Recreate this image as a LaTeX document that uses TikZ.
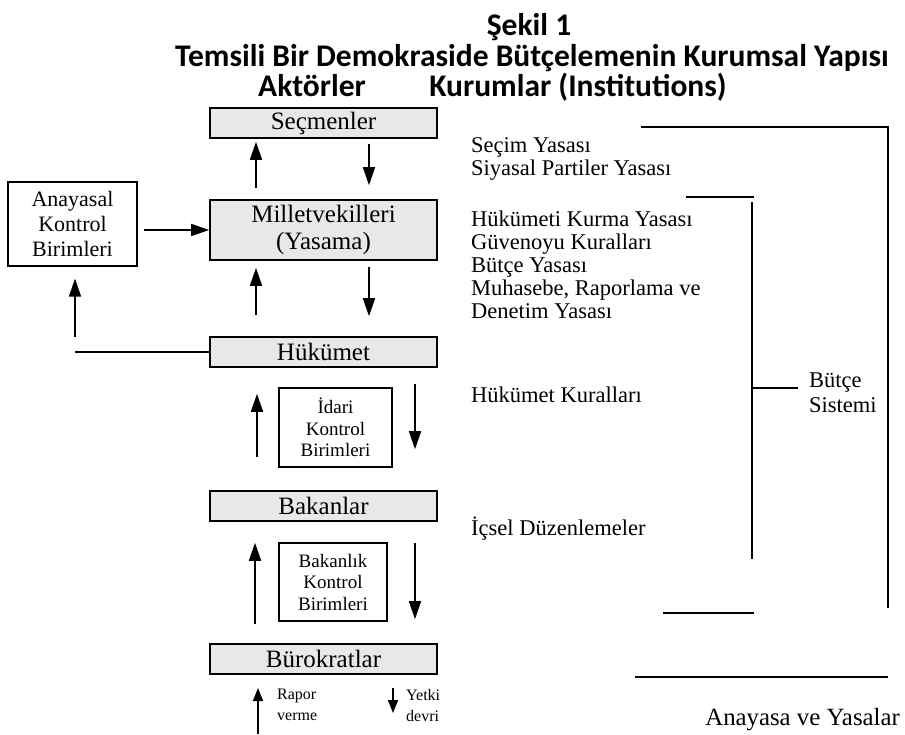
\documentclass[tikz,border=0pt]{standalone}
\usepackage{fontspec}
\setmainfont{Liberation Serif}
\newfontfamily\titlefont{Carlito}
\usetikzlibrary{arrows.meta}

\begin{document}
\begin{tikzpicture}[x=1pt,y=-1pt]
		\tikzset{actor/.style={draw, line width=1.6pt, fill=gray!18, minimum width=227pt, minimum height=30pt, inner sep=1pt, align=center, font=\fontsize{25}{27}\selectfont}}
		\tikzset{control/.style={draw, line width=1.3pt, inner sep=1pt, align=center}}
		\tikzset{law/.style={anchor=base west, inner sep=0pt, font=\fontsize{22.5}{25}\selectfont}}
		\tikzset{note/.style={anchor=north west, inner sep=0pt, align=left, font=\fontsize{16}{21}\selectfont}}
		\tikzset{heading/.style={anchor=base, inner sep=0pt, font=\titlefont\bfseries\fontsize{31.5}{33}\selectfont}}
		\tikzset{edge/.style={-{Triangle[length=18pt,width=12pt]}, line width=1.6pt}}
		\tikzset{small edge/.style={-{Triangle[length=13pt,width=10pt]}, line width=1.6pt}}
		\tikzset{frame/.style={line width=1.6pt}}
		\useasboundingbox (0,0) rectangle (905,734);
		%title
		\node[heading] (t1) at (529,35) {Şekil 1};
		\node[heading] (t2) at (532,66) {Temsili Bir Demokraside Bütçelemenin Kurumsal Yapısı};
		\node[heading] (t3) at (312,96) {Aktörler};
		\node[heading] (t4) at (578,96) {Kurumlar (Institutions)};
		%actors
		\node[actor] (secmen) at (323.5,123) {Seçmenler};
		\node[actor, minimum height=60pt] (mv) at (323.5,230) {Milletvekilleri\\(Yasama)};
		\node[actor] (hukumet) at (323.5,352) {Hükümet};
		\node[actor] (bakan) at (323.5,506) {Bakanlar};
		\node[actor] (burokrat) at (323.5,659) {Bürokratlar};
		%control units
		\node[control, minimum width=129pt, minimum height=84pt, font=\fontsize{22}{25}\selectfont] (anayasal) at (72.5,224) {Anayasal\\Kontrol\\Birimleri};
		\node[control, minimum width=113pt, minimum height=79pt, font=\fontsize{19}{21.5}\selectfont] (idari) at (335.5,427.5) {İdari\\Kontrol\\Birimleri};
		\node[control, minimum width=108pt, minimum height=78pt, font=\fontsize{19}{21.5}\selectfont] (bakanlik) at (333,582) {Bakanlık\\Kontrol\\Birimleri};
		%edges
		\draw[edge, shorten <=11pt, shorten >=3pt] ([xshift=-67.5pt]mv.north) -- ([xshift=-67.5pt]secmen.south);
		\draw[edge, shorten <=5pt, shorten >=14pt] ([xshift=45.5pt]secmen.south) -- ([xshift=45.5pt]mv.north);
		\draw[edge, shorten <=21pt, shorten >=7pt] ([xshift=-67.5pt]hukumet.north) -- ([xshift=-67.5pt]mv.south);
		\draw[edge, shorten <=6pt, shorten >=20pt] ([xshift=45.5pt]mv.south) -- ([xshift=45.5pt]hukumet.north);
		\draw[edge, shorten <=33pt, shorten >=26pt] ([xshift=-66.5pt]bakan.north) -- ([xshift=-66.5pt]hukumet.south);
		\draw[edge, shorten <=16pt, shorten >=41pt] ([xshift=91.5pt]hukumet.south) -- ([xshift=91.5pt]bakan.north);
		\draw[edge, shorten <=19pt, shorten >=21pt] ([xshift=-68.5pt]burokrat.north) -- ([xshift=-68.5pt]bakan.south);
		\draw[edge, shorten <=21pt, shorten >=24pt] ([xshift=91.5pt]bakan.south) -- ([xshift=91.5pt]burokrat.north);
		\draw[edge, shorten <=6pt] (anayasal.east |- mv.west) -- (mv.west);
		\coordinate (corner) at (75,352);
		\draw[frame] (hukumet.west) -- (corner);
		\draw[edge, shorten <=15pt, shorten >=12pt] (corner) -- (anayasal.south -| corner);
		%legend
		\coordinate (up0) at (258,734);
		\coordinate (up1) at (258,688);
		\coordinate (dn0) at (393,688);
		\coordinate (dn1) at (393,713);
		\draw[small edge] (up0) -- (up1);
		\draw[small edge] (dn0) -- (dn1);
		\node[note] (rapor) at (277,689) {Rapor\\verme};
		\node[note] (yetki) at (406,689) {Yetki\\devri};
		%institutions
		\node[law] (l1) at (471,152) {Seçim Yasası};
		\node[law] (l2) at (471,175) {Siyasal Partiler Yasası};
		\node[law] (l3) at (471,226) {Hükümeti Kurma Yasası};
		\node[law] (l4) at (471,249) {Güvenoyu Kuralları};
		\node[law] (l5) at (471,272) {Bütçe Yasası};
		\node[law] (l6) at (471,295) {Muhasebe, Raporlama ve};
		\node[law] (l7) at (471,318) {Denetim Yasası};
		\node[law] (l8) at (471,402) {Hükümet Kuralları};
		\node[law] (l9) at (471,535) {İçsel Düzenlemeler};
		%brackets
		\draw[frame] (641,127) -- (888,127) -- (888,608);
		\draw[frame] (686,197) -- (754,197);
		\draw[frame] (752,202) -- (752,559);
		\draw[frame] (752,388) -- (798,388);
		\draw[frame] (663,613) -- (754,613);
		\draw[frame] (635,677) -- (888,677);
		\node[law, anchor=west, align=left] (butce) at (809,393) {Bütçe\\Sistemi};
		\node[law, anchor=base east, font=\fontsize{24.8}{27}\selectfont] (anayasa) at (900,725) {Anayasa ve Yasalar};
\end{tikzpicture}
\end{document}
